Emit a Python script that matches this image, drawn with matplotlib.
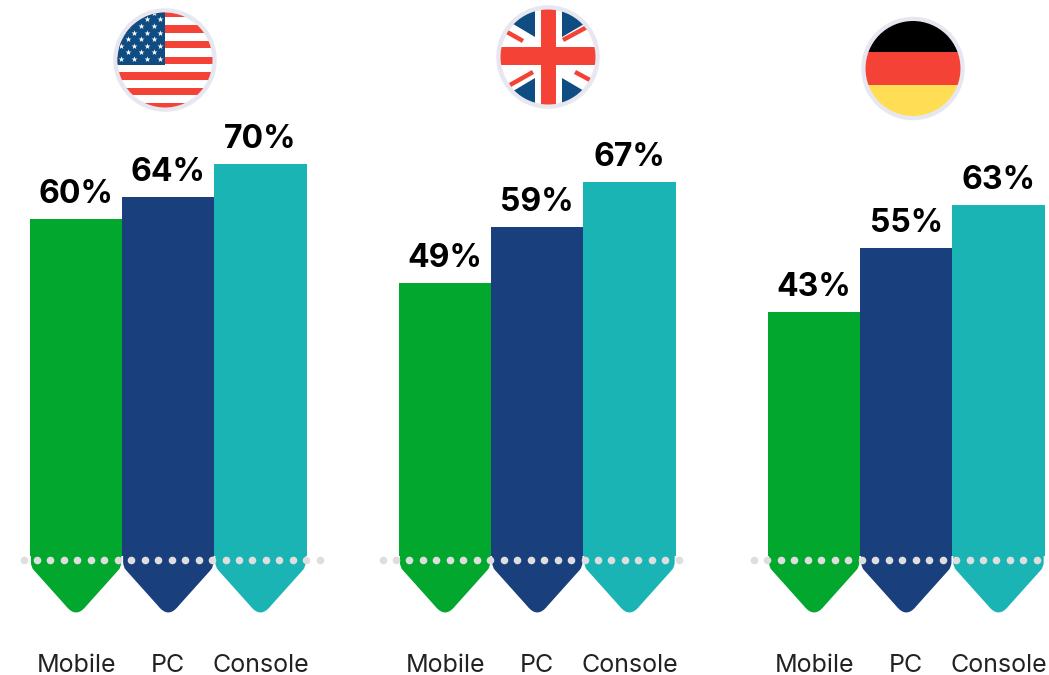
import matplotlib
matplotlib.use("Agg")
import matplotlib.pyplot as plt
from matplotlib.patches import Circle, PathPatch, Polygon, Rectangle
from matplotlib.path import Path

W, H = 1049, 675

categories = ["Mobile", "PC", "Console"]
us_values = [60, 64, 70]
uk_values = [49, 59, 67]
de_values = [43, 55, 63]
group_values = [us_values, uk_values, de_values]

colors = ["#02A82E", "#1A3F7D", "#1BB4B4"]
RED = "#F44336"
NAVY = "#0F4C81"
RING = "#E6E7F0"

# layout of the groups, in pixels
group_left = [30, 399, 768]
dots_left = [23.5, 382.5, 754]
bar_w = 92.2
px_per_pct = [5.5, 5.6, 5.35]
zero_px = [549, 557.5, 542.5]
body_end = 556
label_px = 665

plt.rcParams["font.family"] = ["Inter", "DejaVu Sans"]
fig = plt.figure(figsize=(W / 100, H / 100), dpi=100)


def draw_group(left, values, scale, zero):
    ax = fig.add_axes([left / W, 0, 3 * bar_w / W, 1])
    ax.set_xlim(-0.5, 2.5)
    # the axes fills the height of the figure, pixel 0 is the top
    ax.set_ylim((zero - H) / scale, zero / scale)
    ax.axis("off")

    def val(px):
        return (zero - px) / scale

    bottom = val(body_end)
    for i, v in enumerate(values):
        ax.bar(i, v - bottom, bottom=bottom, width=1.0, color=colors[i], linewidth=0)
        l, r = i - 0.5, i + 0.5
        verts = [
            (l + 0.01, val(body_end - 2)),
            (l + 0.01, val(562)),
            (l + 0.01, val(567)),
            (l + 0.04, val(570)),
            (i - 0.11, val(606)),
            (i, val(619)),
            (i + 0.11, val(606)),
            (r - 0.04, val(570)),
            (r - 0.01, val(567)),
            (r - 0.01, val(562)),
            (r - 0.01, val(body_end - 2)),
            (l + 0.01, val(body_end - 2)),
        ]
        codes = [Path.MOVETO, Path.LINETO, Path.CURVE3, Path.CURVE3, Path.LINETO,
                 Path.CURVE3, Path.CURVE3, Path.LINETO, Path.CURVE3, Path.CURVE3,
                 Path.LINETO, Path.CLOSEPOLY]
        ax.add_patch(PathPatch(Path(verts, codes), facecolor=colors[i], linewidth=0))
        ax.annotate(f"{v}%", (i, v), xytext=(0, 6.5), textcoords="offset points",
                    ha="center", va="bottom", fontsize=23, fontweight="bold", color="black")
        ax.text(i, val(label_px), categories[i], ha="center", va="center",
                fontsize=18, color="#222222")


for left, values, scale, zero in zip(group_left, group_values, px_per_pct, zero_px):
    draw_group(left, values, scale, zero)

# overlay in pixel coordinates for the flags and dotted lines
ov = fig.add_axes([0, 0, 1, 1], zorder=5)
ov.set_xlim(0, W)
ov.set_ylim(H, 0)
ov.axis("off")
ov.patch.set_alpha(0)

for start in dots_left:
    xs = [start + 13.47 * k for k in range(23)]
    xs = [x for x in xs if x < W]
    ov.scatter(xs, [560] * len(xs), s=30, color="#DEDEDE", linewidth=0)


def flag_base(cx, cy):
    ov.add_patch(Circle((cx, cy), 47.5, facecolor="white", linewidth=0))
    ov.add_patch(Circle((cx, cy), 49.5, facecolor="none", edgecolor=RING, linewidth=3.2))
    clip = Circle((cx, cy), 47.5, transform=ov.transData, facecolor="none", linewidth=0)
    ov.add_patch(clip)
    return clip


def usa(cx, cy):
    clip = flag_base(cx, cy)
    for y in [9.5, 25, 40.5, 56.5, 72, 87.5, 103]:
        ov.add_patch(Rectangle((cx - 50, y), 100, 7.8, facecolor=RED, linewidth=0, clip_path=clip))
    ov.add_patch(Rectangle((cx - 50, cy - 50), 50, 55, facecolor=NAVY, linewidth=0, clip_path=clip))
    stars_x, stars_y = [], []
    for row in range(8):
        y = cy - 1 - 6.6 * row
        offs = [1, 14, 27, 40] if row % 2 == 0 else [7.5, 20.5, 33.5]
        for o in offs:
            stars_x.append(cx - 45 + o)
            stars_y.append(y)
    pts = ov.scatter(stars_x, stars_y, s=20, marker="*", color="white", linewidth=0)
    pts.set_clip_path(clip)


def uk(cx, cy):
    clip = flag_base(cx, cy)
    # blue corners, the white diagonals are what is left between them
    blue = [
        [(-13, -20), (-13, -60), (-60, -60), (-60, -48)],
        [(14, -20), (14, -60), (60, -60), (60, -47)],
        [(-13, 21), (-13, 60), (-60, 60), (-60, 49)],
        [(14, 21), (14, 60), (60, 60), (60, 48)],
    ]
    for corner in blue:
        ov.add_patch(Polygon([(cx + x, cy + y) for x, y in corner], facecolor=NAVY,
                             linewidth=0, clip_path=clip))
    for x1, y1, x2, y2 in [(-41, -25, -25, -16), (15, -17, 39, -30), (-38, 28, -15, 15), (27, 15, 42, 23)]:
        ov.plot([cx + x1, cx + x2], [cy + y1, cy + y2], color=RED, linewidth=3.2,
                solid_capstyle="butt", clip_path=clip)
    ov.add_patch(Rectangle((cx - 7.5, cy - 50), 15, 100, facecolor=RED, linewidth=0, clip_path=clip))
    ov.add_patch(Rectangle((cx - 50, cy - 10), 100, 18, facecolor=RED, linewidth=0, clip_path=clip))


def germany(cx, cy):
    clip = flag_base(cx, cy)
    ov.add_patch(Rectangle((cx - 50, cy - 50), 100, 33.5, facecolor="black", linewidth=0, clip_path=clip))
    ov.add_patch(Rectangle((cx - 50, cy - 16.5), 100, 32.5, facecolor=RED, linewidth=0, clip_path=clip))
    ov.add_patch(Rectangle((cx - 50, cy + 16), 100, 34, facecolor="#FFDD55", linewidth=0, clip_path=clip))


usa(165, 60)
uk(548, 57)
germany(913, 68.5)

fig.savefig("out.png", dpi=100)
